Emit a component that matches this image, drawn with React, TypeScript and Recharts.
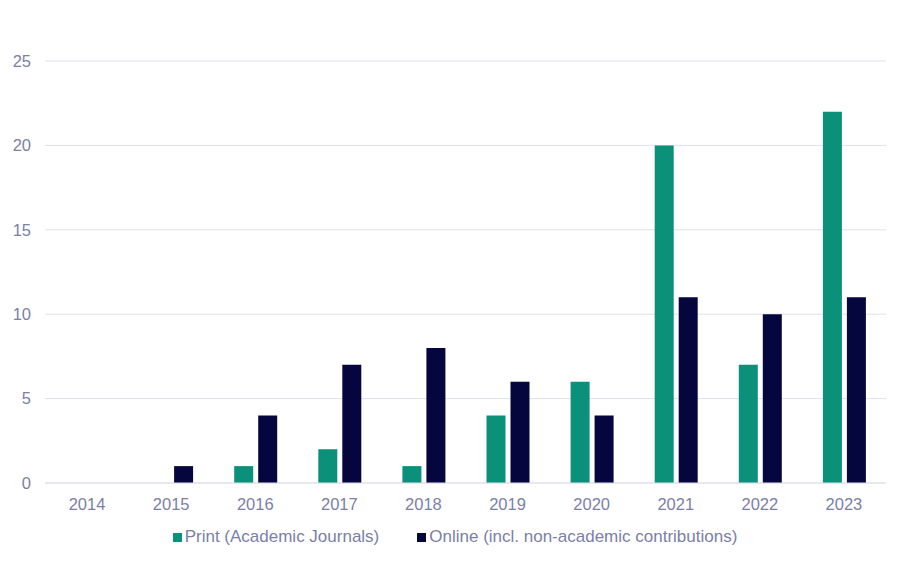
import React from "react";
import { BarChart, Bar, XAxis, YAxis, CartesianGrid, Legend } from "recharts";

const years = ["2014", "2015", "2016", "2017", "2018", "2019", "2020", "2021", "2022", "2023"];
const printCounts = [0, 0, 1, 2, 1, 4, 6, 20, 7, 22];
const onlineCounts = [0, 1, 4, 7, 8, 6, 4, 11, 10, 11];
const yTicks = [0, 5, 10, 15, 20, 25];

const data = years.map((year, i) => ({
  year,
  print: printCounts[i],
  online: onlineCounts[i],
}));

const TEXT = "#7b80a8";
const GRID = "#dfe0ee";
const FONT = "'Liberation Sans', Arial, sans-serif";

const series = [
  { key: "print", name: "Print (Academic Journals)", color: "#0b917a" },
  { key: "online", name: "Online (incl. non-academic contributions)", color: "#06063f" },
];

function LegendRow() {
  return (
    <div
      style={{
        display: "flex",
        justifyContent: "center",
        gap: 38,
        paddingTop: 9,
        paddingLeft: 16,
        fontFamily: FONT,
        fontSize: 17,
        color: TEXT,
      }}
    >
      {series.map((s) => (
        <div key={s.key} style={{ display: "flex", alignItems: "center" }}>
          <span style={{ display: "inline-block", width: 9, height: 9, background: s.color, marginRight: 3 }} />
          <span>{s.name}</span>
        </div>
      ))}
    </div>
  );
}

export default function App() {
  return (
    <div style={{ width: 888, height: 546 }}>
      <BarChart
        width={888}
        height={546}
        data={data}
        margin={{ top: 53, right: 10, bottom: 0, left: 0 }}
        barSize={19}
        barGap={5}
      >
        <CartesianGrid vertical={false} stroke={GRID} />
        <XAxis
          dataKey="year"
          height={35}
          axisLine={{ stroke: GRID }}
          tickLine={false}
          tickMargin={9}
          tick={{ fill: TEXT, fontSize: 16.5, fontFamily: FONT }}
        />
        <YAxis
          width={37}
          domain={[0, 25]}
          ticks={yTicks}
          axisLine={false}
          tickLine={false}
          tickMargin={8}
          tick={{ fill: TEXT, fontSize: 16.5, fontFamily: FONT }}
        />
        <Legend verticalAlign="bottom" height={36} content={() => <LegendRow />} />
        {series.map((s) => (
          <Bar key={s.key} dataKey={s.key} name={s.name} fill={s.color} isAnimationActive={false} />
        ))}
      </BarChart>
    </div>
  );
}
